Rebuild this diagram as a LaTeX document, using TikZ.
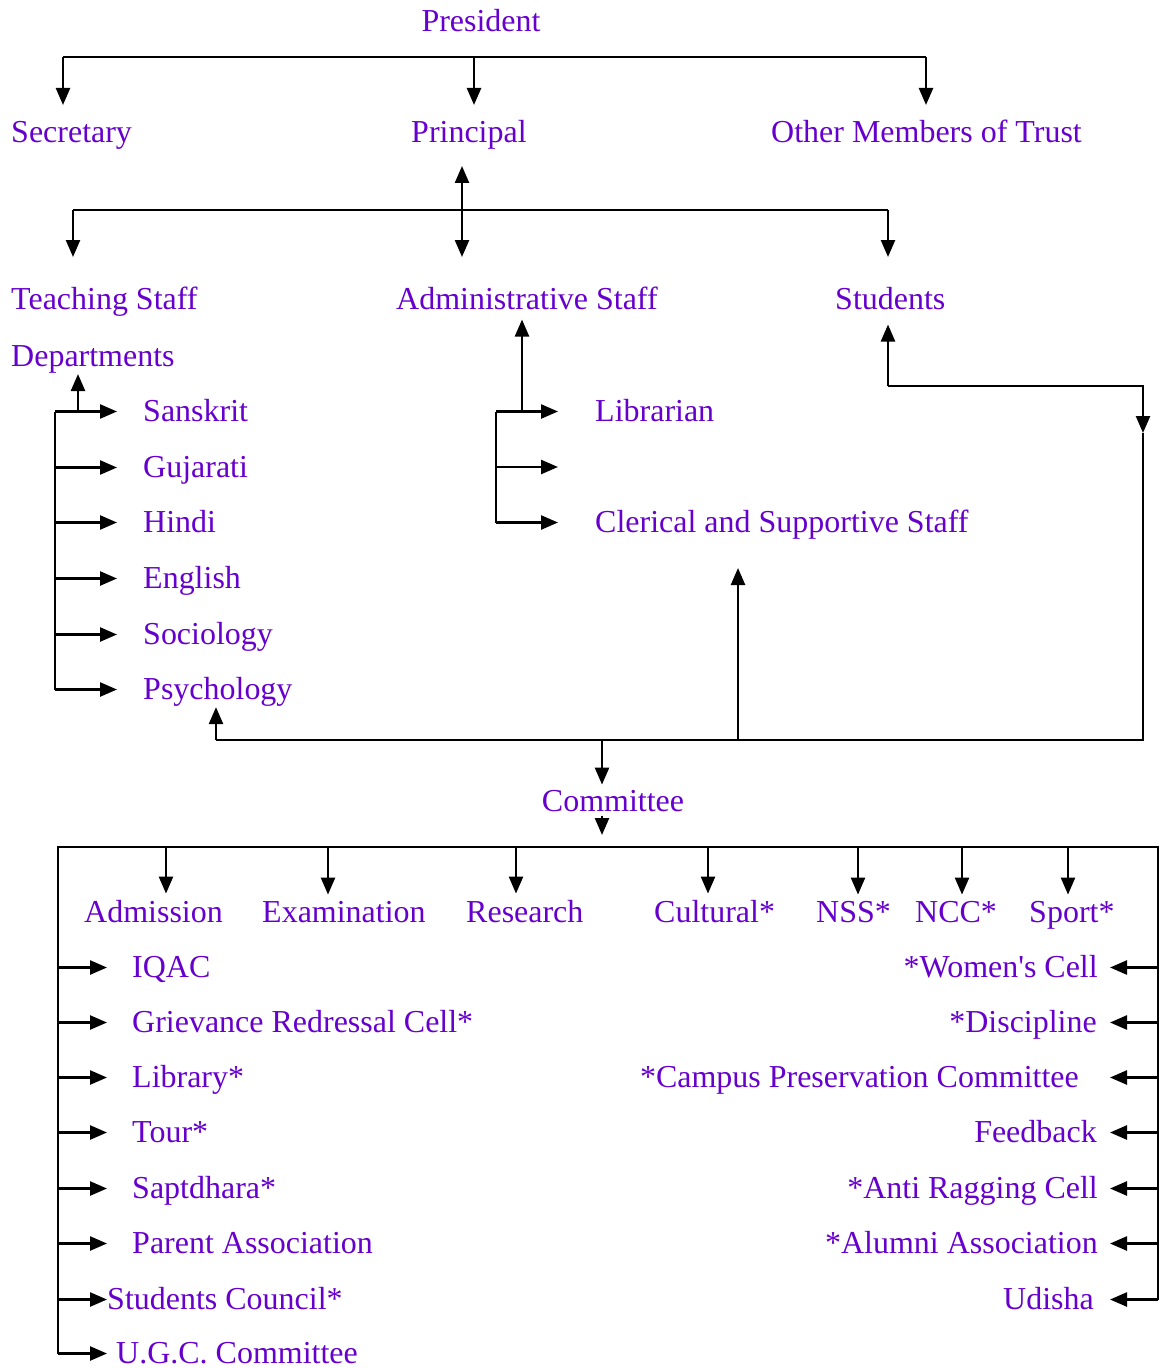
\documentclass[tikz,border=0pt]{standalone}
\usepackage{fontspec}
\setmainfont{Liberation Serif}
\usetikzlibrary{arrows.meta}
\definecolor{orgviolet}{RGB}{102,0,204}

\begin{document}
\begin{tikzpicture}[x=0.02cm, y=-0.02cm, line width=1.4pt,
    lbl/.style={text=orgviolet, inner sep=0pt, font=\fontsize{18.2}{22}\selectfont},
    arr/.style={-{Triangle[length=0.34cm,width=0.28cm]}},
    arrboth/.style={{Triangle[length=0.34cm,width=0.28cm]}-{Triangle[length=0.34cm,width=0.28cm]}}]
  \useasboundingbox (0,0) rectangle (1160,1368);
  \draw
    (481,32) node[lbl,anchor=base] (president) {President}
    (10,143) node[lbl,anchor=base west] (secretary) {Secretary}
    (410,143) node[lbl,anchor=base west] (principal) {Principal}
    (770,143) node[lbl,anchor=base west] (trust) {Other Members of Trust}
    (10,310) node[lbl,anchor=base west] (teaching) {Teaching Staff}
    (395,310) node[lbl,anchor=base west] (admin) {Administrative Staff}
    (834,310) node[lbl,anchor=base west] (students) {Students}
    (10,366) node[lbl,anchor=base west] (depts) {Departments}
    (594,421) node[lbl,anchor=base west] (librarian) {Librarian}
    (594,532) node[lbl,anchor=base west] (clerical) {Clerical and Supportive Staff}
    (613,811) node[lbl,anchor=base] (committee) {Committee};
  \foreach \n/\txt/\y in {sanskrit/Sanskrit/421, gujarati/Gujarati/477, hindi/Hindi/532,
      english/English/588, sociology/Sociology/644, psychology/Psychology/699}
    \node[lbl,anchor=base west] (\n) at (142,\y) {\txt};
  \foreach \n/\txt/\x in {adm/Admission/83, exam/Examination/261, res/Research/465,
      cult/Cultural*/653, nss/NSS*/815, ncc/NCC*/914, sport/Sport*/1028}
    \node[lbl,anchor=base west] (\n) at (\x,922) {\txt};
  \foreach \n/\txt/\x/\y in {iqac/IQAC/131/977, grc/Grievance Redressal Cell*/131/1032,
      lib/Library*/131/1087, tour/Tour*/131/1142, sapt/Saptdhara*/131/1198,
      parent/Parent Association/131/1253, council/Students Council*/106/1309,
      ugc/U.G.C. Committee/115/1363}
    \node[lbl,anchor=base west] (\n) at (\x,\y) {\txt};
  \foreach \n/\txt/\x/\y in {women/*Women\textquotesingle s Cell/1099/977, disc/*Discipline/1098/1032,
      campus/*Campus Preservation Committee/1080/1087, feed/Feedback/1098/1142,
      anti/*Anti Ragging Cell/1099/1198, alumni/*Alumni Association/1099/1253,
      udisha/Udisha/1095/1309}
    \node[lbl,anchor=base east] (\n) at (\x,\y) {\txt};

  % row heights of the side arrows
  \foreach \n in {sanskrit,gujarati,hindi,english,sociology,psychology,librarian,clerical,
      iqac,grc,lib,tour,sapt,parent,council,ugc,women,disc,campus,feed,anti,alumni,udisha}
    \coordinate (\n-row) at ([yshift=0.19cm]\n.base);

  % junctions and arrow ends
  \coordinate (tl) at (63,57);
  \coordinate (tm) at (474,57);
  \coordinate (tr) at (926,57);
  \coordinate (r1) at (0,105);
  \coordinate (ml) at (73,210);
  \coordinate (mr) at (888,210);
  \coordinate (pu) at (462,166);
  \coordinate (r2) at (0,257);
  \coordinate (dsp) at (55,0);
  \coordinate (dhd) at (117,0);
  \coordinate (dup) at (78,0);
  \coordinate (asp) at (496,0);
  \coordinate (ahd) at (558,0);
  \coordinate (aup) at (522,0);
  \coordinate (amid) at (0,467);
  \coordinate (sc) at (888,386);
  \coordinate (se) at (1143,386);
  \coordinate (sd) at (1143,433);
  \coordinate (bl) at (216,740);
  \coordinate (bc) at (602,740);
  \coordinate (bk) at (738,740);
  \coordinate (br) at (1143,740);
  \coordinate (ktip) at (738,568);
  \coordinate (bxl) at (58,847);
  \coordinate (bxr) at (1158,847);
  \coordinate (lhd) at (107,0);
  \coordinate (rhd) at (1110,0);

  \begin{scope}
    % trust level
    \draw (tl) -- (tr);
    \foreach \c in {tl,tm,tr}
      \draw[arr] (\c) -- (\c |- r1);
    \draw (ml) -- (mr);
    \draw[arrboth] (pu) -- (pu |- r2);
    \draw[arr] (ml) -- (ml |- r2);
    \draw[arr] (mr) -- (mr |- r2);
    % departments
    \draw (dsp |- sanskrit-row) -- (dsp |- psychology-row);
    \foreach \n in {sanskrit,gujarati,hindi,english,sociology,psychology}
      \draw[arr] (dsp |- \n-row) -- (dhd |- \n-row);
    \draw[arr] (dup |- sanskrit-row) -- (dup |- depts.south);
    % administrative staff
    \draw (asp |- librarian-row) -- (asp |- clerical-row);
    \foreach \c in {librarian-row,amid,clerical-row}
      \draw[arr] (asp |- \c) -- (ahd |- \c);
    \draw[arr,shorten >=0.16cm] (aup |- librarian-row) -- (aup |- admin.south);
    % students and committee link
    \draw[arr,shorten >=0.26cm] (sc) -- (sc |- students.south);
    \draw[arr] (sc) -- (se) -- (sd);
    \draw (sd) -- (br) -- (bl);
    \draw[arr] (bl) -- (bl |- psychology.south);
    \draw[arr] (bk) -- (ktip);
    \draw[arr,shorten >=0.08cm] (bc) -- (bc |- committee.north);
    \draw[arr,shorten <=0.06cm,shorten >=0.24cm] (bc |- committee.south) -- (bc |- bxl);
    % committee box
    \draw (bxl |- ugc-row) -- (bxl) -- (bxr) -- (bxr |- udisha-row);
    \foreach \n/\x in {adm/166, exam/328, res/516, cult/708, nss/858, ncc/962, sport/1068}
      \draw[arr,shorten >=0.1cm] (\x,847) -- (\x,0 |- \n.north);
    \foreach \n in {iqac,grc,lib,tour,sapt,parent,council,ugc}
      \draw[arr] (bxl |- \n-row) -- (lhd |- \n-row);
    \foreach \n in {women,disc,campus,feed,anti,alumni,udisha}
      \draw[arr] (bxr |- \n-row) -- (rhd |- \n-row);
  \end{scope}
\end{tikzpicture}
\end{document}
